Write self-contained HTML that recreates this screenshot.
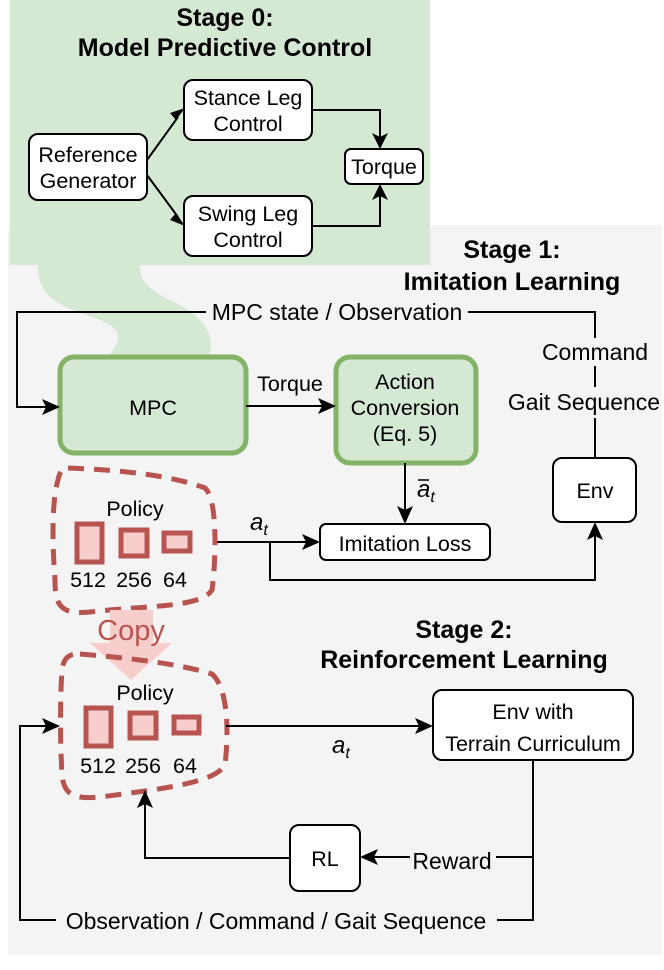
<!DOCTYPE html>
<html><head><meta charset="utf-8"><style>
html,body{margin:0;padding:0;background:#fff}
svg{display:block}
text{font-family:"Liberation Sans",sans-serif;fill:#000}
</style></head><body>
<svg width="664" height="970" viewBox="0 0 664 970" xmlns="http://www.w3.org/2000/svg">
<rect x="8" y="225" width="654" height="730" fill="#f4f4f4"/>
<rect x="10" y="0" width="420" height="265" fill="#d5e8d4"/>
<path d="M38 265 C38 300 60 305 100 320 C130 332 115 345 110 355 L210 355 C215 330 200 315 170 300 C140 285 140 275 140 265 Z" fill="#d5e8d4"/>
<text x="225" y="26" font-size="25" font-weight="bold" text-anchor="middle">Stage 0:</text>
<text x="225" y="56" font-size="25" font-weight="bold" text-anchor="middle">Model Predictive Control</text>
<g fill="#fff" stroke="#000" stroke-width="2">
<rect x="29" y="134" width="118" height="66" rx="9"/>
<rect x="184" y="80" width="128" height="60" rx="9"/>
<rect x="184" y="196" width="128" height="60" rx="9"/>
<rect x="345" y="149" width="78" height="35" rx="6"/>
</g>
<g font-size="21.5" text-anchor="middle">
<text x="88" y="162">Reference</text><text x="88" y="188">Generator</text>
<text x="248" y="105">Stance Leg</text><text x="248" y="131">Control</text>
<text x="248" y="221">Swing Leg</text><text x="248" y="247">Control</text>
<text x="384" y="174">Torque</text>
</g>
<g fill="none" stroke="#000" stroke-width="2">
<path d="M147 160 L178 117"/><path d="M147 175 L178 217"/>
<path d="M312 110 H380 V140"/><path d="M312 226 H380 V192"/>
</g>
<g fill="#000">
<path d="M185 108 L170 113 L176 120 Z"/>
<path d="M185 226 L176 213 L170 220 Z"/>
<path d="M380 149 L372 133 L380 137 L388 133 Z"/>
<path d="M380 184 L372 200 L380 196 L388 200 Z"/>
</g>
<text x="512" y="258" font-size="25" font-weight="bold" text-anchor="middle">Stage 1:</text>
<text x="512" y="290" font-size="25" font-weight="bold" text-anchor="middle">Imitation Learning</text>
<g fill="#d5e8d4" stroke="#82b366" stroke-width="5">
<rect x="60" y="357" width="186" height="96" rx="14"/>
<rect x="336" y="357" width="140" height="106" rx="14"/>
</g>
<g font-size="21.5" text-anchor="middle">
<text x="153" y="415">MPC</text>
<text x="405" y="389">Action</text><text x="405" y="415">Conversion</text><text x="405" y="441">(Eq. 5)</text>
<text x="290" y="391">Torque</text>
</g>
<text x="337" y="320" font-size="23" text-anchor="middle">MPC state / Observation</text>
<text x="595" y="360" font-size="23" text-anchor="middle">Command</text>
<text x="584" y="410" font-size="23" text-anchor="middle">Gait Sequence</text>
<g fill="none" stroke="#000" stroke-width="2">
<path d="M206 312 H17 V407 H50"/>
<path d="M468 312 H595 V338"/>
<path d="M595 366 V387"/>
<path d="M595 418 V458"/>
<path d="M246 406 H326"/>
<path d="M405 463 V514"/>
<path d="M216 542 H310"/>
<path d="M270 542 V580 H595 V532"/>
</g>
<g fill="#000">
<path d="M60 407 L42 399 L46 407 L42 415 Z"/>
<path d="M336 406 L318 398 L322 406 L318 414 Z"/>
<path d="M405 524 L397 506 L405 510 L413 506 Z"/>
<path d="M320 542 L302 534 L306 542 L302 550 Z"/>
<path d="M595 522 L587 540 L595 536 L603 540 Z"/>
</g>
<g fill="#fff" stroke="#000" stroke-width="2">
<rect x="553" y="458" width="83" height="64" rx="9"/>
<rect x="320" y="524" width="170" height="36" rx="6"/>
</g>
<g font-size="21.5" text-anchor="middle">
<text x="595" y="498">Env</text>
<text x="405" y="551">Imitation Loss</text>
</g>
<text x="417" y="497" font-size="24" font-style="italic" font-family="Liberation Serif,serif">a<tspan font-size="16" dy="5">t</tspan></text>
<path d="M418 480 H429" stroke="#000" stroke-width="1.5"/>
<text x="250" y="530" font-size="24" font-style="italic" font-family="Liberation Serif,serif">a<tspan font-size="16" dy="5">t</tspan></text>
<path d="M68 468 C120 470 170 475 205 488 C218 500 216 560 212 590 C200 608 150 605 90 612 C60 615 55 605 55 580 C52 540 52 500 58 480 C60 470 64 468 68 468 Z" fill="none" stroke="#b85450" stroke-width="5" stroke-dasharray="16 10"/>
<text x="135" y="516" font-size="21.5" text-anchor="middle">Policy</text>
<g fill="#f8cecc" stroke="#b85450" stroke-width="5">
<rect x="77" y="524" width="25" height="38"/>
<rect x="121" y="530" width="26" height="26"/>
<rect x="164" y="533" width="26" height="18"/>
</g>
<g font-size="21.5" text-anchor="middle">
<text x="88" y="587">512</text><text x="134" y="587">256</text><text x="175" y="587">64</text>
</g>
<path d="M110 610 H153 V643 H172 L131 680 L90 643 H110 Z" fill="#f8cecc"/>
<text x="131" y="640" font-size="29" text-anchor="middle" style="fill:#b85450">Copy</text>
<text x="464" y="638" font-size="25" font-weight="bold" text-anchor="middle">Stage 2:</text>
<text x="464" y="668" font-size="25" font-weight="bold" text-anchor="middle">Reinforcement Learning</text>
<path d="M80 654 C130 658 180 664 212 674 C230 690 228 740 225 765 C215 782 170 788 100 797 C70 800 64 792 62 775 C60 740 60 700 62 670 C64 656 70 654 80 654 Z" fill="none" stroke="#b85450" stroke-width="5" stroke-dasharray="16 10"/>
<text x="145" y="700" font-size="21.5" text-anchor="middle">Policy</text>
<g fill="#f8cecc" stroke="#b85450" stroke-width="5">
<rect x="86" y="708" width="25" height="38"/>
<rect x="130" y="713" width="26" height="25"/>
<rect x="174" y="717" width="25" height="16"/>
</g>
<g font-size="21.5" text-anchor="middle">
<text x="98" y="773">512</text><text x="143" y="773">256</text><text x="185" y="773">64</text>
</g>
<g fill="#fff" stroke="#000" stroke-width="2">
<rect x="433" y="690" width="200" height="70" rx="9"/>
<rect x="290" y="825" width="70" height="66" rx="9"/>
</g>
<g font-size="21.5" text-anchor="middle">
<text x="533" y="719">Env with</text><text x="533" y="751">Terrain Curriculum</text>
<text x="325" y="866">RL</text>
</g>
<text x="332" y="753" font-size="24" font-style="italic" font-family="Liberation Serif,serif">a<tspan font-size="16" dy="5">t</tspan></text>
<text x="452" y="869" font-size="23" text-anchor="middle">Reward</text>
<text x="276" y="929" font-size="23" text-anchor="middle">Observation / Command / Gait Sequence</text>
<g fill="none" stroke="#000" stroke-width="2">
<path d="M226 726 H423"/>
<path d="M533 760 V857 H496"/>
<path d="M410 857 H370"/>
<path d="M290 858 H145 V800"/>
<path d="M533 857 V920 H497"/>
<path d="M56 920 H20 V726 H50"/>
</g>
<g fill="#000">
<path d="M433 726 L415 718 L419 726 L415 734 Z"/>
<path d="M360 857 L378 849 L374 857 L378 865 Z"/>
<path d="M145 790 L137 808 L145 804 L153 808 Z"/>
<path d="M60 726 L42 718 L46 726 L42 734 Z"/>
</g>
</svg>
</body></html>
